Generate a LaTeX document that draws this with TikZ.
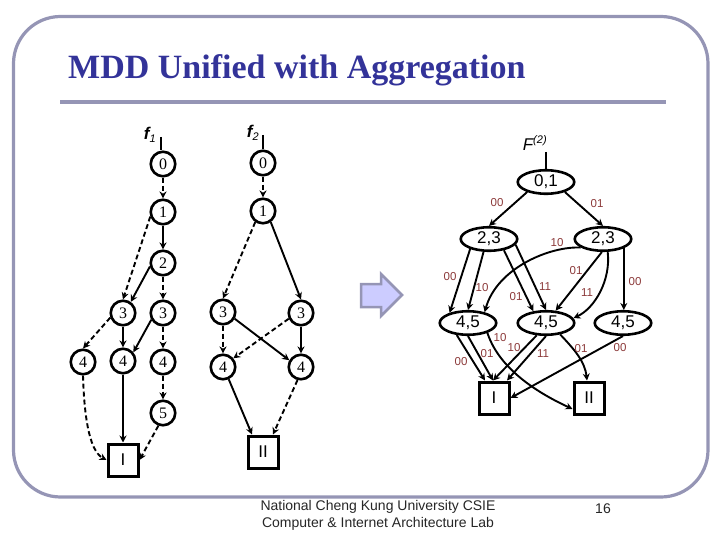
\documentclass[tikz,border=0pt]{standalone}
\usepackage{fontspec}
\setmainfont{Liberation Serif}
\newfontfamily\arialf{Liberation Sans}
\usetikzlibrary{arrows.meta,shapes.geometric}
\definecolor{framec}{HTML}{9595B5}
\definecolor{titlec}{HTML}{333399}
\definecolor{labc}{HTML}{8C3A3A}
\definecolor{arrfill}{HTML}{CCCCFF}
\tikzset{
  edge/.style={line width=1.9pt,-{Stealth[length=7pt,width=7pt]}},
  dedge/.style={edge,dash pattern=on 5pt off 3pt},
  stub/.style={line width=1.9pt},
  cnode/.style={circle,draw,line width=2.6pt,minimum size=24.5pt,inner sep=0pt,font=\fontsize{16}{16}\selectfont},
  enode/.style={ellipse,draw,line width=2.6pt,minimum width=56.5pt,minimum height=23.5pt,inner sep=0pt,font=\arialf\fontsize{17}{17}\selectfont},
  bnode/.style={rectangle,draw,line width=3pt,minimum width=30pt,minimum height=32pt,inner sep=0pt,font=\arialf\fontsize{17}{17}\selectfont},
  elab/.style={text=labc,font=\arialf\fontsize{11.5}{11.5}\selectfont,inner sep=0pt},
  fnlab/.style={font=\arialf\bfseries\itshape\fontsize{17}{17}\selectfont,inner sep=0pt},
  foot/.style={font=\arialf\fontsize{14}{14}\selectfont,text=black!85,inner sep=0pt}
}
\begin{document}
\begin{tikzpicture}[x=1pt,y=-1pt]
\useasboundingbox (0,0) rectangle (720,540);
% frame
\draw[framec,line width=3.2pt,rounded corners=47pt] (13.5,16.5) rectangle (708,497);
\draw[framec,line width=4pt] (60,102) -- (666,102);
\node[anchor=west,text=titlec,inner sep=0pt,font=\bfseries\fontsize{34}{34}\selectfont] (title) at (68,70) {MDD Unified with Aggregation};
% left graphs
\node[cnode] (a0) at (163,164) {0};
\node[cnode] (a1) at (163,212) {1};
\node[cnode] (a2) at (163,263) {2};
\node[cnode] (a3) at (123,313) {3};
\node[cnode] (a3b) at (163,313) {3};
\node[cnode] (a4) at (83,362) {4};
\node[cnode] (a4b) at (123,361) {4};
\node[cnode] (a4c) at (163,362) {4};
\node[cnode] (a5) at (163,413) {5};
\node[bnode] (aI) at (123,460) {I};
\node[fnlab] (f1) at (150,135) {f\textsubscript{\fontsize{11}{11}\selectfont\mdseries\itshape 1}};
\coordinate (f1t) at (161,137);
\draw[stub] (f1t) -- (f1t |- a0.north);
\draw[dedge] (a0) -- (a1);
\draw[edge] (a1) -- (a2);
\draw[dedge] (a1.200) -- (a3.north);
\draw[edge] (a2.195) -- (a3.55);
\draw[dedge] (a2) -- (a3b);
\draw[dedge] (a3.200) -- (a4.north);
\draw[edge] (a3) -- (a4b);
\draw[edge] (a3b.210) -- (a4b.40);
\draw[dedge] (a3b) -- (a4c);
\draw[dedge] (a4c) -- (a5);
\draw[dedge] (a4.south) .. controls (84,410) and (88,450) .. (aI.west);
\draw[edge] (a4b) -- (aI.north);
\draw[dedge] (a5.250) -- (aI.east);
% f2
\node[cnode] (b0) at (263,163) {0};
\node[cnode] (b1) at (263,211) {1};
\node[cnode] (b3) at (223,312) {3};
\node[cnode] (b3b) at (301,313) {3};
\node[cnode] (b4) at (223,367) {4};
\node[cnode] (b4b) at (301,367) {4};
\node[bnode] (bII) at (263,452) {II};
\node[fnlab] (f2) at (253,133) {f\textsubscript{\fontsize{11}{11}\selectfont\mdseries\itshape 2}};
\coordinate (f2t) at (263,135);
\draw[stub] (f2t) -- (b0.north);
\draw[dedge] (b0) -- (b1);
\draw[dedge] (b1.235) -- (b3.north);
\draw[edge] (b1.305) -- (b3b.north);
\draw[dedge] (b3) -- (b4);
\draw[edge] (b3.330) -- (b4b.150);
\draw[dedge] (b3b.205) -- (b4.40);
\draw[edge] (b3b) -- (b4b);
\draw[edge] (b4.295) -- ([xshift=-11pt]bII.north);
\draw[dedge] (b4b.255) -- ([xshift=10pt]bII.north);
% block arrow
\draw[framec,line width=2.5pt,fill=arrfill,line join=miter] (361,284) -- (381,284) -- (381,274) -- (402,295) -- (381,316) -- (381,307) -- (361,307) -- cycle;
% right graph
\node[enode] (c0) at (546,182) {0,1};
\node[enode] (cL) at (489,239) {2,3};
\node[enode] (cR) at (603,239) {2,3};
\node[enode] (d1) at (468,323) {4,5};
\node[enode] (d2) at (546,323) {4,5};
\node[enode] (d3) at (623,323) {4,5};
\node[bnode] (eI) at (494,398) {I};
\node[bnode] (eII) at (589,398) {II};
\node[inner sep=0pt,font=\arialf\itshape\fontsize{17}{17}\selectfont] (F) at (535,143) {F\textsuperscript{\fontsize{11}{11}\selectfont (2)}};
\coordinate (Ft) at (546,152);
\draw[stub] (Ft) -- (c0.north);
\draw[edge] (c0.208) -- (cL.north);
\draw[edge] (c0.-28) -- (cR.north);
\draw[edge] (cL.208) -- (d1.151);
\draw[edge] (cL.247) -- (d1.north);
\draw[edge] (cL.-37) -- (d2.137);
\draw[edge] (cL.-12) -- (d2.north);
\draw[edge] (cR.201) .. controls (550,246) and (497,268) .. (d1.33);
\draw[edge] (cR.265) -- (d2.52);
\draw[edge] (cR.-70) .. controls (611,280) and (595,308) .. (d2.10);
\draw[edge] (cR.-24) -- (d3.north -| cR.-24);
\draw[edge] (d1.227) -- ([xshift=-9pt]eI.north);
\draw[edge] (d1.south) -- ([xshift=-1pt]eI.north);
\draw[edge] (d1.-27) .. controls (497,362) and (525,387) .. ([yshift=-11pt]eII.west);
\draw[edge] (d2.233) -- ([xshift=-1pt]eI.north);
\draw[edge] (d2.south) -- ([xshift=13pt]eI.north);
\draw[edge] (d2.-39) .. controls (575,350) and (585,362) .. ([xshift=-2pt]eII.north);
\draw[edge] (d3.south) -- (eI.east);
% edge labels
\node[elab] (l1) at (497,203) {00};
\node[elab] (l2) at (597,204) {01};
\node[elab] (l3) at (557,243) {10};
\node[elab] (l4) at (450,277) {00};
\node[elab] (l5) at (482,288) {10};
\node[elab] (l6) at (516,297) {01};
\node[elab] (l7) at (545,287) {11};
\node[elab] (l8) at (576,271) {01};
\node[elab] (l9) at (587,293) {11};
\node[elab] (l10) at (635,282) {00};
\node[elab] (l11) at (500,338) {10};
\node[elab] (l12) at (487,354) {01};
\node[elab] (l13) at (461,362) {00};
\node[elab] (l14) at (514,348) {10};
\node[elab] (l15) at (543,354) {11};
\node[elab] (l16) at (581,349) {01};
\node[elab] (l17) at (620,348) {00};
% footer
\node[foot] (ft1) at (378,507) {National Cheng Kung University CSIE};
\node[foot] (ft2) at (378,524) {Computer \& Internet Architecture Lab};
\node[foot] (pg) at (603,509) {16};
\end{tikzpicture}
\end{document}
